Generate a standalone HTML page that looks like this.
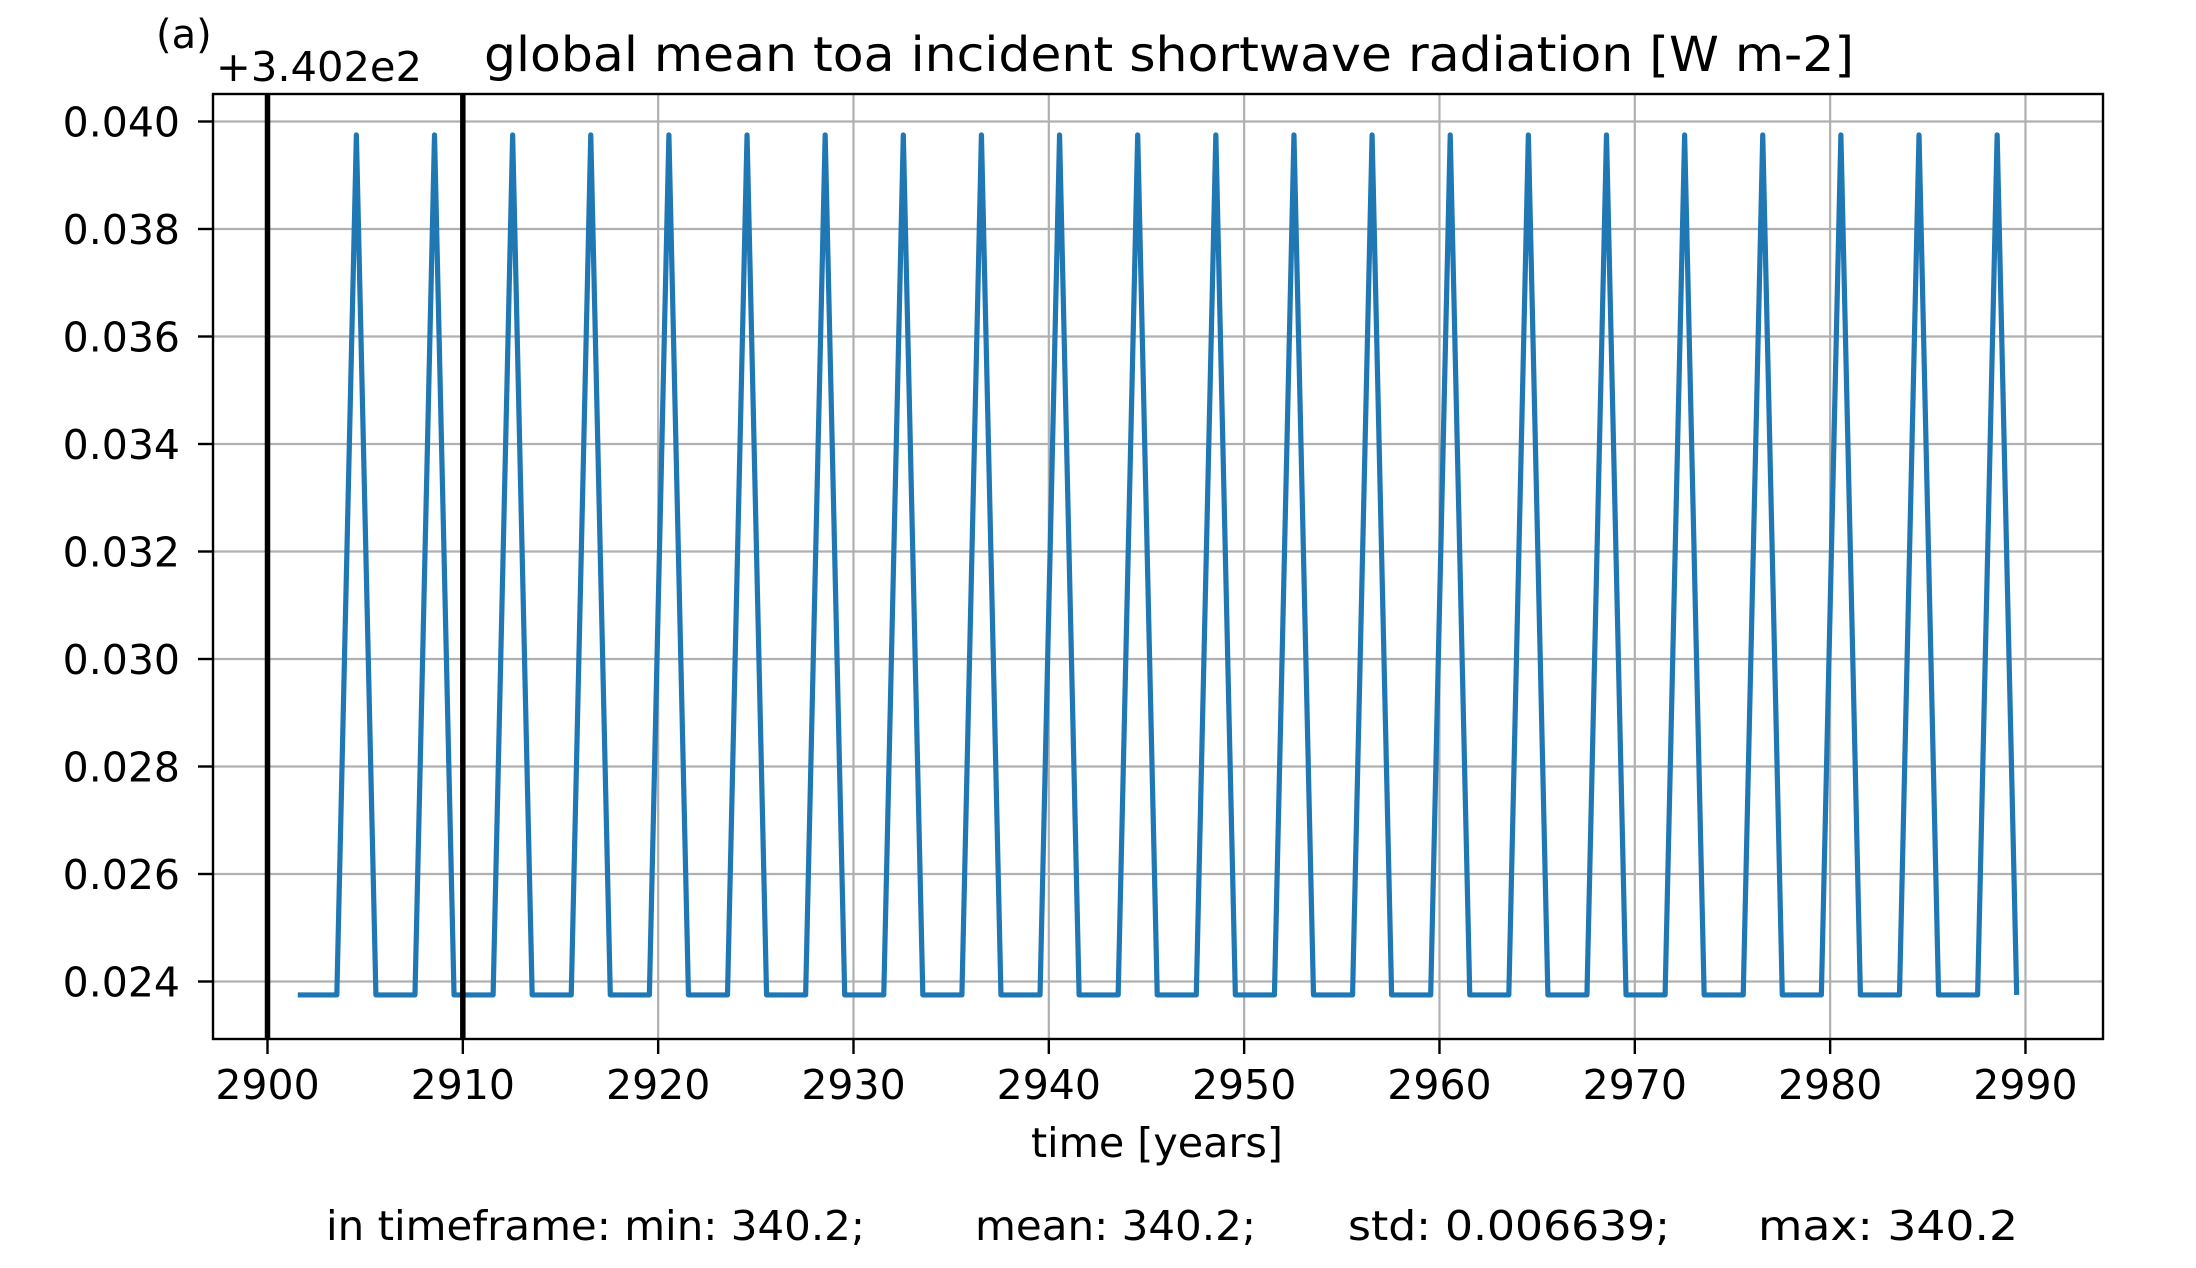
<!DOCTYPE html>
<html><head><meta charset="utf-8"><style>
html,body{margin:0;padding:0;background:#fff;}
svg text{font-family:"DejaVu Sans","Liberation Sans",sans-serif;fill:#000;}
</style></head><body>
<svg id="chart" width="2196" height="1263" viewBox="0 0 2196 1263" xmlns="http://www.w3.org/2000/svg">
<rect x="0" y="0" width="2196" height="1263" fill="#fff"/>
<g id="grid"></g>
<g id="series"></g>
<g id="axes"></g>
<text x="156" y="48" font-size="40">(a)</text>
<text x="216" y="81" font-size="41" textLength="206" lengthAdjust="spacingAndGlyphs">+3.402e2</text>
<text x="1169" y="71" font-size="48" text-anchor="middle" textLength="1370" lengthAdjust="spacingAndGlyphs">global mean toa incident shortwave radiation [W m-2]</text>
<text x="1157" y="1157" font-size="41" text-anchor="middle" textLength="252" lengthAdjust="spacingAndGlyphs">time [years]</text>
<text x="326" y="1240" font-size="41" textLength="539" lengthAdjust="spacingAndGlyphs">in timeframe: min: 340.2;</text>
<text x="975" y="1240" font-size="41" textLength="281" lengthAdjust="spacingAndGlyphs">mean: 340.2;</text>
<text x="1348" y="1240" font-size="41" textLength="322" lengthAdjust="spacingAndGlyphs">std: 0.006639;</text>
<text x="1758" y="1240" font-size="41" textLength="260" lengthAdjust="spacingAndGlyphs">max: 340.2</text>
</svg>
<script>
const years = [2901,2902,2903,2904,2905,2906,2907,2908,2909,2910,2911,2912,2913,2914,2915,2916,2917,2918,2919,2920,2921,2922,2923,2924,2925,2926,2927,2928,2929,2930,2931,2932,2933,2934,2935,2936,2937,2938,2939,2940,2941,2942,2943,2944,2945,2946,2947,2948,2949,2950,2951,2952,2953,2954,2955,2956,2957,2958,2959,2960,2961,2962,2963,2964,2965,2966,2967,2968,2969,2970,2971,2972,2973,2974,2975,2976,2977,2978,2979,2980,2981,2982,2983,2984,2985,2986,2987,2988,2989];
const values = [
0.02375,0.02375,0.02375,0.03975,
0.02375,0.02375,0.02375,0.03975,
0.02375,0.02375,0.02375,0.03975,
0.02375,0.02375,0.02375,0.03975,
0.02375,0.02375,0.02375,0.03975,
0.02375,0.02375,0.02375,0.03975,
0.02375,0.02375,0.02375,0.03975,
0.02375,0.02375,0.02375,0.03975,
0.02375,0.02375,0.02375,0.03975,
0.02375,0.02375,0.02375,0.03975,
0.02375,0.02375,0.02375,0.03975,
0.02375,0.02375,0.02375,0.03975,
0.02375,0.02375,0.02375,0.03975,
0.02375,0.02375,0.02375,0.03975,
0.02375,0.02375,0.02375,0.03975,
0.02375,0.02375,0.02375,0.03975,
0.02375,0.02375,0.02375,0.03975,
0.02375,0.02375,0.02375,0.03975,
0.02375,0.02375,0.02375,0.03975,
0.02375,0.02375,0.02375,0.03975,
0.02375,0.02375,0.02375,0.03975,
0.02375,0.02375,0.02375,0.03975,
0.02375];
const xTicks = [2900,2910,2920,2930,2940,2950,2960,2970,2980,2990];
const yTicks = [0.024,0.026,0.028,0.030,0.032,0.034,0.036,0.038,0.040];
const yTickLabels = ["0.024","0.026","0.028","0.030","0.032","0.034","0.036","0.038","0.040"];
const markerYears = [2900,2910];
const xOffset = 0.55;

const L=213, R=2103, T=94, B=1039;
const X0=2900, PX0=267.5, PYR=19.533;
const Y0=0.040, PY0=121.5, PPU=53750;
function sx(v){return PX0+(v-X0)*PYR;}
function sy(v){return PY0+(Y0-v)*PPU;}
const NS="http://www.w3.org/2000/svg";
function mk(tag,attrs,parent){const e=document.createElementNS(NS,tag);for(const k in attrs)e.setAttribute(k,attrs[k]);parent.appendChild(e);return e;}
const grid=document.getElementById('grid'), series=document.getElementById('series'), axes=document.getElementById('axes');

xTicks.forEach(t=>{
  const g=mk('line',{x1:sx(t),x2:sx(t),y1:T,y2:B,stroke:'#b0b0b0','stroke-width':2.2},grid);
  
  
  const tk=mk('line',{x1:sx(t),x2:sx(t),y1:B,y2:B+15,stroke:'#000','stroke-width':2.4},axes);
  
  
  const lb=mk('text',{x:sx(t),y:1099,'font-size':41,'text-anchor':'middle'},axes);
  lb.textContent=t;
  
  
});
yTicks.forEach((t,i)=>{
  const g=mk('line',{x1:L,x2:R,y1:sy(t),y2:sy(t),stroke:'#b0b0b0','stroke-width':2.2},grid);
  
  
  const tk=mk('line',{x1:L-15,x2:L,y1:sy(t),y2:sy(t),stroke:'#000','stroke-width':2.4},axes);
  
  
  const lb=mk('text',{x:180,y:sy(t)+15,'font-size':41,'text-anchor':'end'},axes);
  lb.textContent=yTickLabels[i];
  
  
});
const pts=years.map((y,i)=>sx(y+xOffset).toFixed(2)+','+sy(values[i]).toFixed(2)).join(' ');
const line=mk('polyline',{points:pts,fill:'none',stroke:'#1f77b4','stroke-width':5.2,'stroke-linejoin':'round'},series);


markerYears.forEach(m=>{
  const v=mk('line',{x1:sx(m),x2:sx(m),y1:T,y2:B,stroke:'#000','stroke-width':5.5},series);
  
  
});
const frame=mk('rect',{x:L,y:T,width:R-L,height:B-T,fill:'none',stroke:'#000','stroke-width':2.4},axes);


</script>
</body></html>
